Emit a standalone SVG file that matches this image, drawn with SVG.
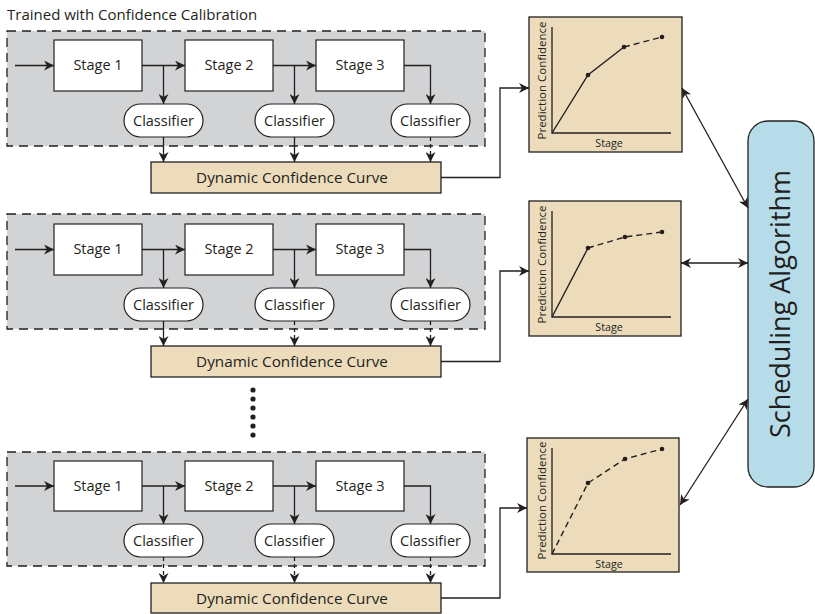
<svg xmlns="http://www.w3.org/2000/svg" width="815" height="614" viewBox="0 0 815 614">
<style>
text{font-family:"Open Sans","Liberation Sans",sans-serif;fill:#231f20}
.grp{fill:#d1d3d4;stroke:#231f20;stroke-width:1.3;stroke-dasharray:9 6}
.stage{fill:#fff;stroke:#231f20;stroke-width:1.2}
.cls{fill:#fff;stroke:#231f20;stroke-width:1.2}
.dcc{fill:#ecdcbb;stroke:#231f20;stroke-width:1.3}
.chart{fill:#ecdcbb;stroke:#231f20;stroke-width:1.3}
.sched{fill:#b6dcea;stroke:#231f20;stroke-width:1.3}
.lbl{font-size:14.5px;text-anchor:middle}
.dtxt{font-size:15.3px;text-anchor:middle}
.small{font-size:10.7px;text-anchor:middle}
.ylab{font-size:11.5px;text-anchor:middle}
.ln{fill:none;stroke:#231f20;stroke-width:1.3}
.dl{fill:none;stroke:#231f20;stroke-width:1.3;stroke-dasharray:4 3}
.ax{fill:none;stroke:#231f20;stroke-width:1.3}
.cv{fill:none;stroke:#231f20;stroke-width:1.4}
.cvd{fill:none;stroke:#231f20;stroke-width:1.4;stroke-dasharray:6 4}
.pt{fill:#231f20}
</style>
<defs>
<marker id="ah" viewBox="0 0 10 10" refX="10" refY="5" markerWidth="10" markerHeight="10" markerUnits="userSpaceOnUse" orient="auto-start-reverse">
<path d="M0,0 L10,5 L0,10 L3,5 Z" fill="#231f20"/>
</marker>
</defs>

<text x="7" y="20" style="font-size:15px">Trained with Confidence Calibration</text>

<!-- Pipeline 1 -->
<g id="pipeline1">
<rect class="grp" x="7" y="31" width="478" height="115"/>
<g id="p1-stage1"><rect class="stage" x="54" y="40" width="88" height="51"/><text class="lbl" x="98" y="70">Stage 1</text></g>
<g id="p1-stage2"><rect class="stage" x="185" y="40" width="88" height="51"/><text class="lbl" x="229" y="70">Stage 2</text></g>
<g id="p1-stage3"><rect class="stage" x="316" y="40" width="88" height="51"/><text class="lbl" x="360" y="70">Stage 3</text></g>
<g id="p1-cls1"><rect class="cls" x="124" y="104" width="79" height="33" rx="16.5"/><text class="lbl" x="163.5" y="125.5">Classifier</text></g>
<g id="p1-cls2"><rect class="cls" x="255" y="104" width="79" height="33" rx="16.5"/><text class="lbl" x="294.5" y="125.5">Classifier</text></g>
<g id="p1-cls3"><rect class="cls" x="391" y="104" width="79" height="33" rx="16.5"/><text class="lbl" x="430.5" y="125.5">Classifier</text></g>
<g id="p1-dcc"><rect class="dcc" x="151" y="162" width="290" height="31"/><text class="dtxt" x="292" y="183">Dynamic Confidence Curve</text></g>
</g>

<!-- Pipeline 2 -->
<g id="pipeline2" transform="translate(0,184)">
<rect class="grp" x="7" y="30" width="478" height="115"/>
<g id="p2-stage1"><rect class="stage" x="54" y="40" width="88" height="51"/><text class="lbl" x="98" y="70">Stage 1</text></g>
<g id="p2-stage2"><rect class="stage" x="185" y="40" width="88" height="51"/><text class="lbl" x="229" y="70">Stage 2</text></g>
<g id="p2-stage3"><rect class="stage" x="316" y="40" width="88" height="51"/><text class="lbl" x="360" y="70">Stage 3</text></g>
<g id="p2-cls1"><rect class="cls" x="124" y="104" width="79" height="33" rx="16.5"/><text class="lbl" x="163.5" y="125.5">Classifier</text></g>
<g id="p2-cls2"><rect class="cls" x="255" y="104" width="79" height="33" rx="16.5"/><text class="lbl" x="294.5" y="125.5">Classifier</text></g>
<g id="p2-cls3"><rect class="cls" x="391" y="104" width="79" height="33" rx="16.5"/><text class="lbl" x="430.5" y="125.5">Classifier</text></g>
<g id="p2-dcc"><rect class="dcc" x="151" y="162" width="290" height="31"/><text class="dtxt" x="292" y="183">Dynamic Confidence Curve</text></g>
</g>

<!-- Pipeline 3 -->
<g id="pipeline3" transform="translate(0,421)">
<rect class="grp" x="7" y="31" width="478" height="114"/>
<g id="p3-stage1"><rect class="stage" x="54" y="40" width="88" height="50"/><text class="lbl" x="98" y="70">Stage 1</text></g>
<g id="p3-stage2"><rect class="stage" x="185" y="40" width="88" height="50"/><text class="lbl" x="229" y="70">Stage 2</text></g>
<g id="p3-stage3"><rect class="stage" x="316" y="40" width="88" height="50"/><text class="lbl" x="360" y="70">Stage 3</text></g>
<g id="p3-cls1"><rect class="cls" x="124" y="103" width="79" height="33" rx="16.5"/><text class="lbl" x="163.5" y="124.5">Classifier</text></g>
<g id="p3-cls2"><rect class="cls" x="255" y="103" width="79" height="33" rx="16.5"/><text class="lbl" x="294.5" y="124.5">Classifier</text></g>
<g id="p3-cls3"><rect class="cls" x="391" y="103" width="79" height="33" rx="16.5"/><text class="lbl" x="430.5" y="124.5">Classifier</text></g>
<g id="p3-dcc"><rect class="dcc" x="151" y="162" width="290" height="30"/><text class="dtxt" x="292" y="182.5">Dynamic Confidence Curve</text></g>
</g>

<!-- ellipsis dots -->
<g id="ellipsis" class="pt">
<circle cx="253" cy="390" r="2.6"/><circle cx="253" cy="399" r="2.6"/><circle cx="253" cy="408" r="2.6"/>
<circle cx="253" cy="417" r="2.6"/><circle cx="253" cy="426" r="2.6"/><circle cx="253" cy="435" r="2.6"/>
</g>

<!-- Charts -->
<g id="chart1">
<rect class="chart" x="529" y="17" width="153" height="135"/>
<path class="ax" d="M552,27 V133 H671"/>
<path class="cv" d="M552,133 L588,75 L624,47"/>
<path class="cvd" d="M624,47 L662,37"/>
<circle class="pt" cx="588" cy="75" r="2.3"/><circle class="pt" cx="624" cy="47" r="2.3"/><circle class="pt" cx="662" cy="37" r="2.3"/>
<text class="small" x="609" y="146.5">Stage</text>
<text class="ylab" transform="translate(545.5,80.5) rotate(-90)">Prediction Confidence</text>
</g>
<g id="chart2">
<rect class="chart" x="529" y="201" width="152" height="135"/>
<path class="ax" d="M552,211 V317 H671"/>
<path class="cv" d="M552,317 L588,248"/>
<path class="cvd" d="M588,248 L625,237 L662,232"/>
<circle class="pt" cx="588" cy="248" r="2.3"/><circle class="pt" cx="625" cy="237" r="2.3"/><circle class="pt" cx="662" cy="232" r="2.3"/>
<text class="small" x="609" y="330.5">Stage</text>
<text class="ylab" transform="translate(545.5,264.5) rotate(-90)">Prediction Confidence</text>
</g>
<g id="chart3">
<rect class="chart" x="527" y="438" width="152" height="134"/>
<path class="ax" d="M552,448 V554 H671"/>
<path class="cvd" d="M552,554 L588,483 L625,459 L662,449"/>
<circle class="pt" cx="588" cy="483" r="2.3"/><circle class="pt" cx="625" cy="459" r="2.3"/><circle class="pt" cx="662" cy="449" r="2.3"/>
<text class="small" x="609" y="567.5">Stage</text>
<text class="ylab" transform="translate(545.5,500.5) rotate(-90)">Prediction Confidence</text>
</g>

<g id="scheduler">
<rect class="sched" x="748" y="121" width="66" height="366" rx="20"/>
<text transform="translate(790,304) rotate(-90)" style="font-size:27px;text-anchor:middle">Scheduling Algorithm</text>
</g>

<!-- Connectors -->
<g id="connectors">
<!-- pipeline 1 -->
<path class="ln" d="M15,65.5 H54" marker-end="url(#ah)"/>
<path class="ln" d="M142,65.5 H185" marker-end="url(#ah)"/>
<path class="ln" d="M273,65.5 H316" marker-end="url(#ah)"/>
<path class="ln" d="M163.5,65.5 V104" marker-end="url(#ah)"/>
<path class="ln" d="M294.5,65.5 V104" marker-end="url(#ah)"/>
<path class="ln" d="M404,65.5 H430.5 V104" marker-end="url(#ah)"/>
<path class="ln" d="M163.5,137 V162" marker-end="url(#ah)"/>
<path class="ln" d="M294.5,137 V162" marker-end="url(#ah)"/>
<path class="dl" d="M430.5,137 V162" marker-end="url(#ah)"/>
<path class="ln" d="M441,177.5 H500 V88 H529" marker-end="url(#ah)"/>
<!-- pipeline 2 -->
<path class="ln" d="M15,249.5 H54" marker-end="url(#ah)"/>
<path class="ln" d="M142,249.5 H185" marker-end="url(#ah)"/>
<path class="ln" d="M273,249.5 H316" marker-end="url(#ah)"/>
<path class="ln" d="M163.5,249.5 V288" marker-end="url(#ah)"/>
<path class="ln" d="M294.5,249.5 V288" marker-end="url(#ah)"/>
<path class="ln" d="M404,249.5 H430.5 V288" marker-end="url(#ah)"/>
<path class="ln" d="M163.5,321 V346" marker-end="url(#ah)"/>
<path class="dl" d="M294.5,321 V346" marker-end="url(#ah)"/>
<path class="dl" d="M430.5,321 V346" marker-end="url(#ah)"/>
<path class="ln" d="M441,361.5 H500 V271 H529" marker-end="url(#ah)"/>
<!-- pipeline 3 -->
<path class="ln" d="M15,486 H54" marker-end="url(#ah)"/>
<path class="ln" d="M142,486 H185" marker-end="url(#ah)"/>
<path class="ln" d="M273,486 H316" marker-end="url(#ah)"/>
<path class="ln" d="M163.5,486 V524" marker-end="url(#ah)"/>
<path class="ln" d="M294.5,486 V524" marker-end="url(#ah)"/>
<path class="ln" d="M404,486 H430.5 V524" marker-end="url(#ah)"/>
<path class="dl" d="M163.5,557 V583" marker-end="url(#ah)"/>
<path class="dl" d="M294.5,557 V583" marker-end="url(#ah)"/>
<path class="dl" d="M430.5,557 V583" marker-end="url(#ah)"/>
<path class="ln" d="M441,598 H500 V508 H527" marker-end="url(#ah)"/>
<!-- charts to scheduler -->
<path class="ln" d="M682,88 L748,208" marker-start="url(#ah)" marker-end="url(#ah)"/>
<path class="ln" d="M681,263 H748" marker-start="url(#ah)" marker-end="url(#ah)"/>
<path class="ln" d="M680,505 L748,399" marker-start="url(#ah)" marker-end="url(#ah)"/>
</g>
</svg>
